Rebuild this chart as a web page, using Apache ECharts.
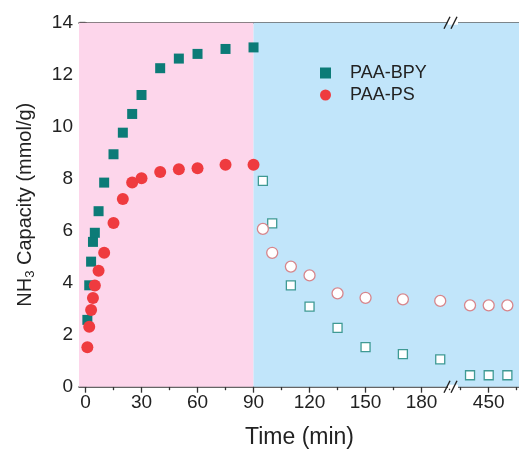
<!DOCTYPE html>
<html><head><meta charset="utf-8">
<script src="https://cdn.jsdelivr.net/npm/echarts@6/dist/echarts.min.js"></script>
<style>html,body{margin:0;padding:0;background:#fff}#c{width:519px;height:450px}</style>
</head><body><div id="c"></div>
<script>
// ---- data ----
const adsTime = [1, 2, 3, 4, 5, 7, 10, 15, 20, 25, 30, 40, 50, 60, 75, 90];
const bpyAds  = [2.57, 3.9, 4.81, 5.57, 5.92, 6.75, 7.85, 8.94, 9.77, 10.49, 11.22, 12.25, 12.62, 12.8, 12.99, 13.05];
const psAds   = [1.52, 2.31, 2.95, 3.41, 3.89, 4.46, 5.15, 6.3, 7.22, 7.85, 8.02, 8.26, 8.36, 8.4, 8.54, 8.54];
const desTime = [95, 100, 110, 120, 135, 150, 170, 190, 440, 450, 460];
const bpyDes  = [7.92, 6.28, 3.9, 3.08, 2.26, 1.52, 1.25, 1.05, 0.44, 0.44, 0.44];
const psDes   = [6.07, 5.15, 4.62, 4.28, 3.59, 3.42, 3.36, 3.3, 3.13, 3.13, 3.13];
const leftTickLabels = [0, 30, 60, 90, 120, 150, 180];
const rightTickLabels = [450];
const yTickLabels = [0, 2, 4, 6, 8, 10, 12, 14];
const seriesNames = ['PAA-BPY', 'PAA-PS'];

const BREAK = 300;
function pairs(ts, ys, right) {
  const out = [];
  ts.forEach((t, i) => { if ((t > BREAK) === right) out.push([t, ys[i]]); });
  return out;
}
const TEAL = '#0c7b77', RED = '#ef3b3f';
const PINK = '#fdd6eb', BLUE = '#c1e5fa';
const AX = '#333';
const font = 'Liberation Sans, Arial, sans-serif';
const LBL = 19;

const gTop = 22.7, gH = 364, axL = 79, splitX = 453;
const grids = [
  { left: axL, top: gTop, width: splitX - axL, height: gH, outerBoundsMode: 'none', containLabel: false },
  { left: splitX, top: gTop, width: 519 - splitX, height: gH, outerBoundsMode: 'none', containLabel: false }
];
const pxPerMin = 1.867;
const leftMin = -(85.5 - axL) / pxPerMin, leftMax = leftMin + (splitX - axL) / pxPerMin;
const rightMin = 450 - (488.7 - splitX) / pxPerMin, rightMax = rightMin + (519 - splitX) / pxPerMin;

const majL = leftTickLabels.slice();
const minL = []; for (let v = 15; v < leftMax; v += 30) minL.push(v);
const minY = []; for (let v = 1; v < 14; v += 2) minY.push(v);

function xAx(grid, min, max, labelVals, tickVals, len, showLabel, showLine) {
  return {
    type: 'value', gridIndex: grid, position: 'bottom', min, max, splitLine: { show: false },
    axisLine: { show: showLine, lineStyle: { color: AX, width: 1.5 } },
    axisTick: { show: true, customValues: tickVals, length: len, lineStyle: { color: AX, width: 1.3 } },
    axisLabel: { show: showLabel, customValues: labelVals, color: '#222', fontSize: LBL, fontFamily: font, margin: 7 }
  };
}
const xAxes = [
  xAx(0, leftMin, leftMax, majL, majL, 6, true, true),
  xAx(0, leftMin, leftMax, [], minL, 3.5, false, false),
  xAx(1, rightMin, rightMax, rightTickLabels, rightTickLabels, 6, true, true),
  xAx(1, rightMin, rightMax, [], [435, 465], 3.5, false, false),
  { type: 'value', gridIndex: 0, position: 'top', min: leftMin, max: leftMax, axisLine: { show: true, lineStyle: { color: AX, width: 1.5 } }, axisTick: { show: false }, axisLabel: { show: false }, splitLine: { show: false } },
  { type: 'value', gridIndex: 1, position: 'top', min: rightMin, max: rightMax, axisLine: { show: true, lineStyle: { color: AX, width: 1.5 } }, axisTick: { show: false }, axisLabel: { show: false }, splitLine: { show: false } }
];
xAxes[0].name = 'Time (min)';
xAxes[0].nameLocation = 'middle';
xAxes[0].nameGap = 39;
xAxes[0].nameTextStyle = { fontSize: 23, color: '#222', fontFamily: font, padding: [0, 0, 0, 67] };

const yAxes = [
  { type: 'value', gridIndex: 0, position: 'left', min: 0, max: 14, interval: 2,
    axisLine: { show: true, lineStyle: { color: AX, width: 1.5 } },
    axisTick: { show: true, customValues: yTickLabels, length: 6, lineStyle: { color: AX, width: 1.3 } },
    axisLabel: { customValues: yTickLabels, color: '#222', fontSize: LBL, fontFamily: font, margin: 6 },
    splitLine: { show: false },
    name: '{a|NH}{s|3}{a| Capacity (mmol/g)}', nameLocation: 'middle', nameGap: 42, nameRotate: 90,
    nameTextStyle: { rich: { a: { fontSize: 20, color: '#222', fontFamily: font }, s: { fontSize: 13, color: '#222', fontFamily: font, verticalAlign: 'bottom', padding: [10, 0, 0, 0] } } }
  },
  { type: 'value', gridIndex: 1, min: 0, max: 14, show: false, splitLine: { show: false } },
  { type: 'value', gridIndex: 0, position: 'left', offset: 0, min: 0, max: 14, axisLine: { show: false },
    axisTick: { show: true, customValues: minY, length: 3.5, lineStyle: { color: AX, width: 1.2 } },
    axisLabel: { show: false }, splitLine: { show: false } }
];

const series = [
  { type: 'line', xAxisIndex: 0, yAxisIndex: 0, data: [], silent: true, z: 0,
    markArea: { silent: true, data: [
      [{ coord: [leftMin, 0], itemStyle: { color: PINK } }, { coord: [90, 14] }],
      [{ coord: [90, 0], itemStyle: { color: BLUE } }, { coord: [leftMax, 14] }]
    ] } },
  { type: 'line', xAxisIndex: 2, yAxisIndex: 1, data: [], silent: true, z: 0,
    markArea: { silent: true, data: [
      [{ coord: [rightMin, 0], itemStyle: { color: BLUE } }, { coord: [rightMax, 14] }]
    ] } }
];
[[0, 0, false], [2, 1, true]].forEach(([xi, yi, right]) => {
  series.push({ name: seriesNames[0], type: 'scatter', xAxisIndex: xi, yAxisIndex: yi, z: 3, symbol: 'rect', symbolSize: 10, itemStyle: { color: TEAL, opacity: 1 }, data: pairs(adsTime, bpyAds, right) });
  series.push({ name: seriesNames[1], type: 'scatter', xAxisIndex: xi, yAxisIndex: yi, z: 4, symbol: 'circle', symbolSize: 12, itemStyle: { color: RED, opacity: 1 }, data: pairs(adsTime, psAds, right) });
  series.push({ name: 'bpyDes', type: 'scatter', xAxisIndex: xi, yAxisIndex: yi, z: 3, symbol: 'rect', symbolSize: 9, itemStyle: { color: '#fff', borderColor: '#3f9a94', borderWidth: 1.3, opacity: 1 }, data: pairs(desTime, bpyDes, right) });
  series.push({ name: 'psDes', type: 'scatter', xAxisIndex: xi, yAxisIndex: yi, z: 3, symbol: 'circle', symbolSize: 11, itemStyle: { color: '#fff', borderColor: '#d7868c', borderWidth: 1.3, opacity: 1 }, data: pairs(desTime, psDes, right) });
});

function slashes(y) {
  return [
    { type: 'rect', shape: { x: 448, y: y - 2, width: 10, height: 4 }, style: { fill: '#fff' }, z: 100 },
    { type: 'line', shape: { x1: 444, y1: y + 6, x2: 450, y2: y - 6 }, style: { stroke: '#222', lineWidth: 1.4 }, z: 101 },
    { type: 'line', shape: { x1: 451, y1: y + 6, x2: 457, y2: y - 6 }, style: { stroke: '#222', lineWidth: 1.4 }, z: 101 }
  ];
}

const chart = echarts.init(document.getElementById('c'), null, { renderer: 'canvas' });
chart.setOption({
  animation: false,
  backgroundColor: '#fff',
  grid: grids,
  xAxis: xAxes,
  yAxis: yAxes,
  legend: {
    data: [{ name: seriesNames[0], icon: 'rect', itemStyle: { color: TEAL } }, { name: seriesNames[1], icon: 'circle' }],
    left: 315, top: 59, orient: 'vertical', itemWidth: 11, itemHeight: 11, itemGap: 4,
    textStyle: { fontSize: 18, color: '#222', fontFamily: font, padding: [0, 0, 0, 14] }, selectedMode: false
  },
  graphic: [].concat(slashes(gTop), slashes(gTop + gH)),
  series
});
</script></body></html>
